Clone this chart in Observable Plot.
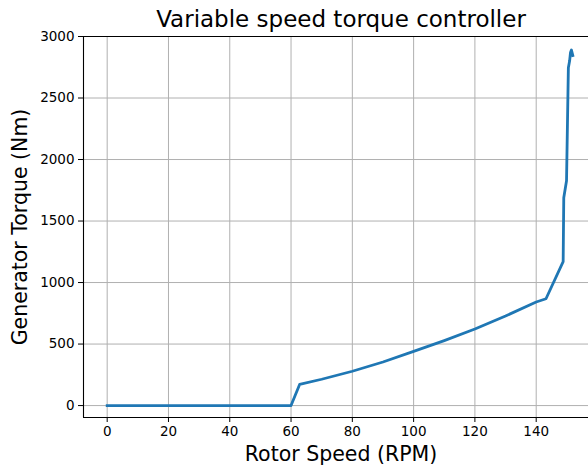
<!DOCTYPE html>
<html>
<head>
<meta charset="utf-8">
<script src="https://cdn.jsdelivr.net/npm/d3@7"></script>
<script src="https://cdn.jsdelivr.net/npm/@observablehq/plot@0.6"></script>
<style>
  html, body { margin: 0; padding: 0; background: #fff; }
  svg { font-family: "DejaVu Sans", sans-serif; }
</style>
</head>
<body>
<div id="chart"></div>
<script>
// Torque schedule of the variable speed controller
const rotorSpeed = [0, 60, 62.8, 70, 80, 90, 100, 110, 120, 130, 140, 143.2, 148.8, 149.0, 149.9, 150.5, 150.9, 151.2, 151.5, 151.95];
const generatorTorque = [0, 0, 172, 214, 279, 354, 440, 528, 622, 728, 842, 868, 1170, 1690, 1828, 2745, 2800, 2870, 2890, 2845];

const xTicks = [0, 20, 40, 60, 80, 100, 120, 140];
const yTicks = [0, 500, 1000, 1500, 2000, 2500, 3000];

const titleText = "Variable speed torque controller";
const xLabel = "Rotor Speed (RPM)";
const yLabel = "Generator Torque (Nm)";

const data = rotorSpeed.map((s, i) => ({speed: s, torque: generatorTorque[i]}));

const xDomain = [-7.73, 157.07];
const yDomain = [-97, 3000];

const chart = Plot.plot({
  width: 588,
  height: 465,
  marginLeft: 83,
  marginRight: 0,
  marginTop: 36,
  marginBottom: 48,
  style: {fontFamily: "DejaVu Sans, sans-serif", fontSize: "13.5px", color: "#000", background: "#fff"},
  x: {domain: xDomain},
  y: {domain: yDomain},
  marks: [
    Plot.gridX(xTicks, {stroke: "#b0b0b0", strokeOpacity: 1, strokeWidth: 1}),
    Plot.gridY(yTicks, {stroke: "#b0b0b0", strokeOpacity: 1, strokeWidth: 1}),
    Plot.line(data, {x: "speed", y: "torque", stroke: "#1f77b4", strokeWidth: 2.8, strokeLinejoin: "round", strokeLinecap: "square"}),
    Plot.ruleX([xDomain[0]], {stroke: "#000", strokeWidth: 1.1}),
    Plot.ruleY([yDomain[0], yDomain[1]], {stroke: "#000", strokeWidth: 1.1}),
    Plot.axisX(xTicks, {label: null, tickSize: 5, tickPadding: 4, fontSize: 13.5, stroke: "#000", tickFormat: d => String(d)}),
    Plot.axisY(yTicks, {label: null, tickSize: 5, tickPadding: 4, fontSize: 13.5, stroke: "#000", tickFormat: d => String(d)}),
    Plot.text([titleText], {frameAnchor: "top", dx: 5, dy: -10, lineAnchor: "bottom", fontSize: 23, fill: "#000"}),
    Plot.text([xLabel], {frameAnchor: "bottom", dx: 5, dy: 36.5, lineAnchor: "middle", fontSize: 20.5, fill: "#000"}),
    Plot.text([yLabel], {frameAnchor: "left", dx: -63, rotate: -90, textAnchor: "middle", lineAnchor: "middle", fontSize: 20.5, fill: "#000"})
  ]
});
document.getElementById("chart").appendChild(chart);
</script>
</body>
</html>
